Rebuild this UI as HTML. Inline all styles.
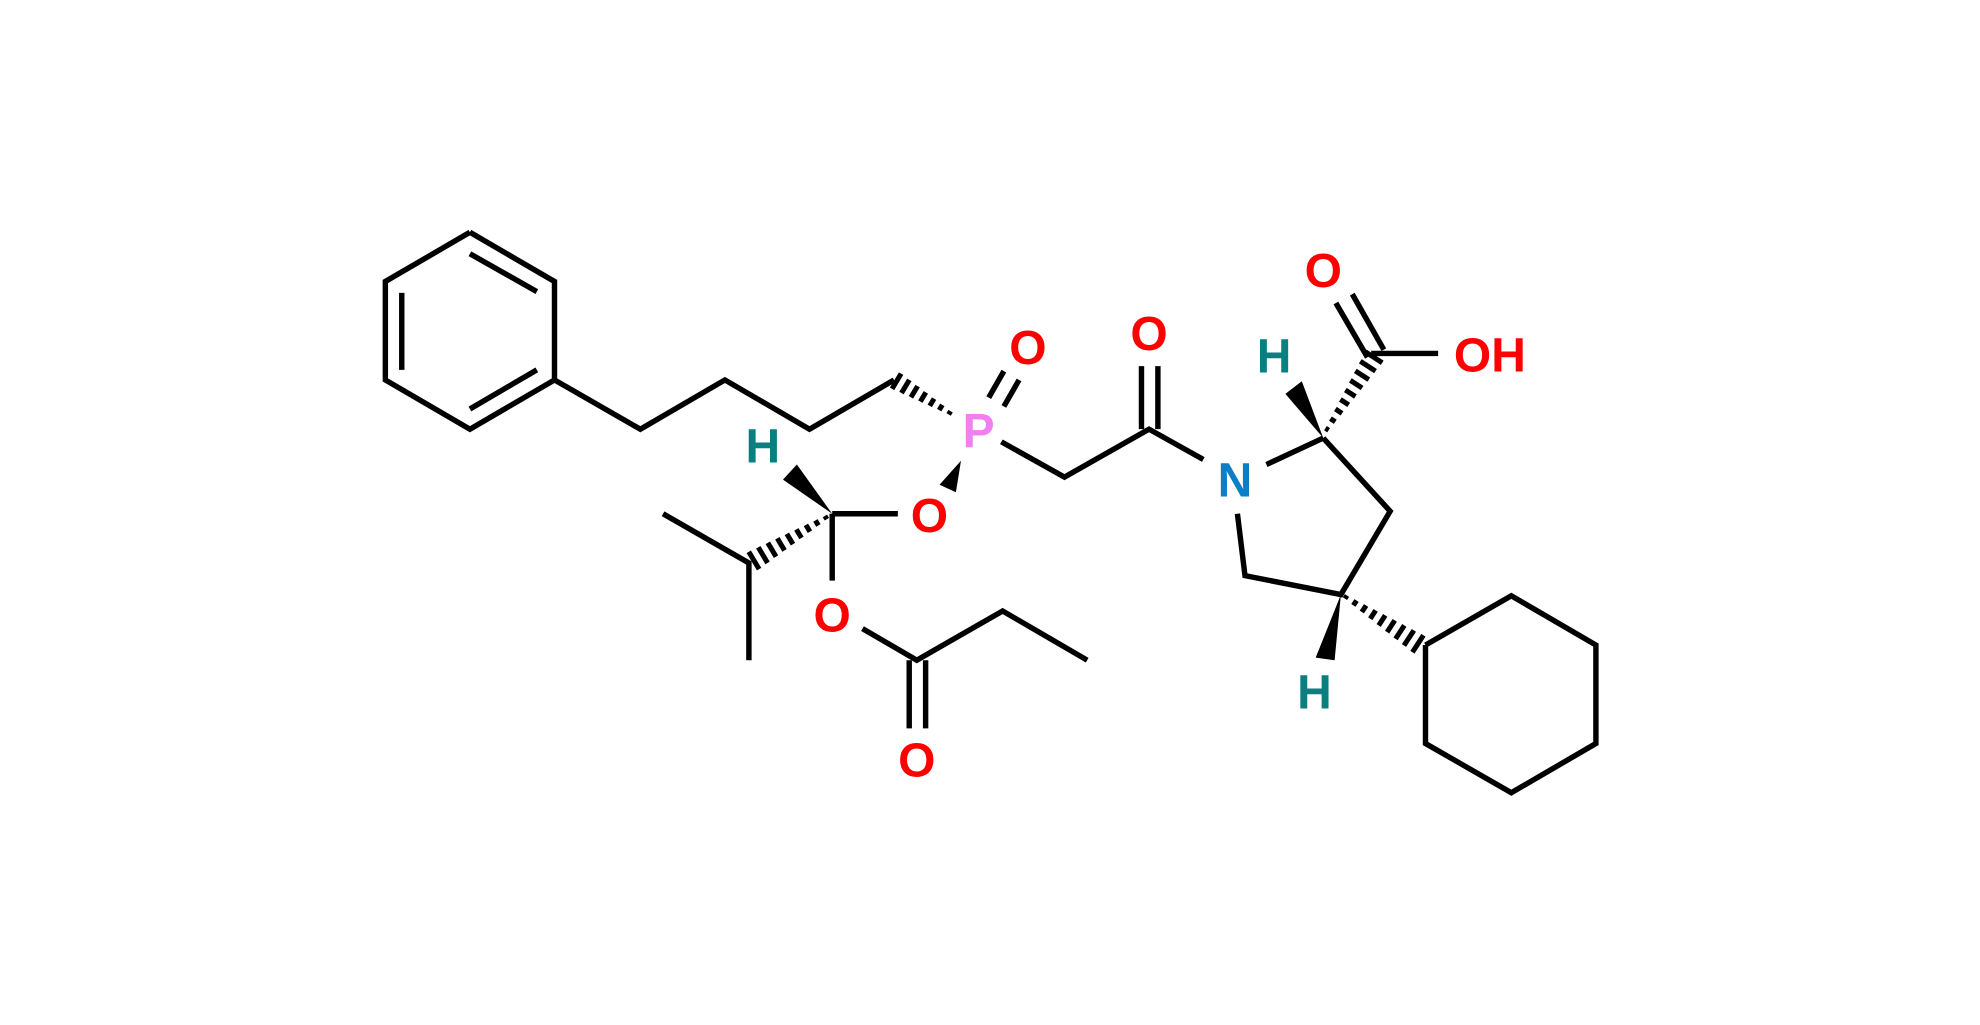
<!DOCTYPE html>
<html><head><meta charset="utf-8"><style>
html,body{margin:0;padding:0;background:#fff;width:1980px;height:1025px;overflow:hidden}
svg{display:block}
text{font-family:"Liberation Sans",sans-serif;font-weight:bold;font-size:38px;text-anchor:middle;dominant-baseline:central}
</style></head><body>
<svg id="s" width="1980" height="1025" viewBox="0 0 1568 812" xmlns="http://www.w3.org/2000/svg">
<g stroke="#000" stroke-width="4.3" fill="none" stroke-linecap="butt" stroke-linejoin="miter">
<polyline points="372,184 439,223 439,301 372,340 305,301 305,223 372,184"/>
<line x1="372" y1="201" x2="425" y2="231"/>
<line x1="318" y1="232" x2="318" y2="293"/>
<line x1="372" y1="324" x2="425" y2="293"/>
<polyline points="439,301 507,340 574,301 641,340 708,301"/>
<line x1="783" y1="315" x2="795" y2="294"/>
<line x1="795" y1="322" x2="807" y2="301"/>
<polyline points="793,350 843,378 910,340 953,364"/>
<line x1="904" y1="290" x2="904" y2="340"/>
<line x1="917" y1="290" x2="917" y2="340"/>
<line x1="1003" y1="368" x2="1048" y2="347"/>
<line x1="1058" y1="240" x2="1083" y2="283"/>
<line x1="1071" y1="233" x2="1096" y2="277"/>
<line x1="1086" y1="280" x2="1139" y2="280"/>
<polyline points="1048,347 1101,405 1062,471 986,456 980,407"/>
<polyline points="1129,511 1197,472 1264,511 1264,589 1197,628 1129,589 1129,511"/>
<line x1="659" y1="407" x2="711" y2="407"/>
<line x1="659" y1="407" x2="659" y2="460"/>
<polyline points="525,407 593,446 593,523"/>
<polyline points="683,498 726,523 794,484 861,523"/>
<line x1="720" y1="523" x2="720" y2="577"/>
<line x1="733" y1="523" x2="733" y2="577"/>
</g>
<g fill="#000">
<polygon points="1048,347 1031,302 1018,312"/>
<polygon points="1062,471 1042,521 1057,523"/>
<polygon points="761,365 744,384 757,390"/>
<polygon points="659,407 631,368 620,380"/>
</g>
<g id="h" stroke="#000" stroke-width="4"></g>
<text x="814" y="276" fill="#f00">O</text>
<text x="775" y="342" fill="#f080f0">P</text>
<text x="910" y="265" fill="#f00">O</text>
<text x="978" y="381" fill="#0a7fc8">N</text>
<text x="1048" y="215" fill="#f00">O</text>
<text x="1180" y="282" fill="#f00">OH</text>
<text x="1009" y="283" fill="#0a7f7f">H</text>
<text x="1041" y="549" fill="#0a7f7f">H</text>
<text x="736" y="409" fill="#f00">O</text>
<text x="604" y="354" fill="#0a7f7f">H</text>
<text x="659" y="488" fill="#f00">O</text>
<text x="726" y="603" fill="#f00">O</text>
</svg>
<script>
var g=document.getElementById('h');
function hash(x1,y1,x2,y2,w1,w2,n){var dx=x2-x1,dy=y2-y1,L=Math.hypot(dx,dy),px=-dy/L,py=dx/L;
for(var i=0;i<n;i++){var t=i/(n-1),x=x1+dx*t,y=y1+dy*t,w=(w1+(w2-w1)*t)/2;
var l=document.createElementNS('http://www.w3.org/2000/svg','line');
l.setAttribute('x1',x+px*w);l.setAttribute('y1',y+py*w);l.setAttribute('x2',x-px*w);l.setAttribute('y2',y-py*w);g.appendChild(l);}}
hash(752,327,710,302,3,14,7);
hash(1051,340,1088,283,3,16,9);
hash(1066,473,1123,510,3,16,9);
hash(654,410,597,444,3,16,9);
</script>
</body></html>
